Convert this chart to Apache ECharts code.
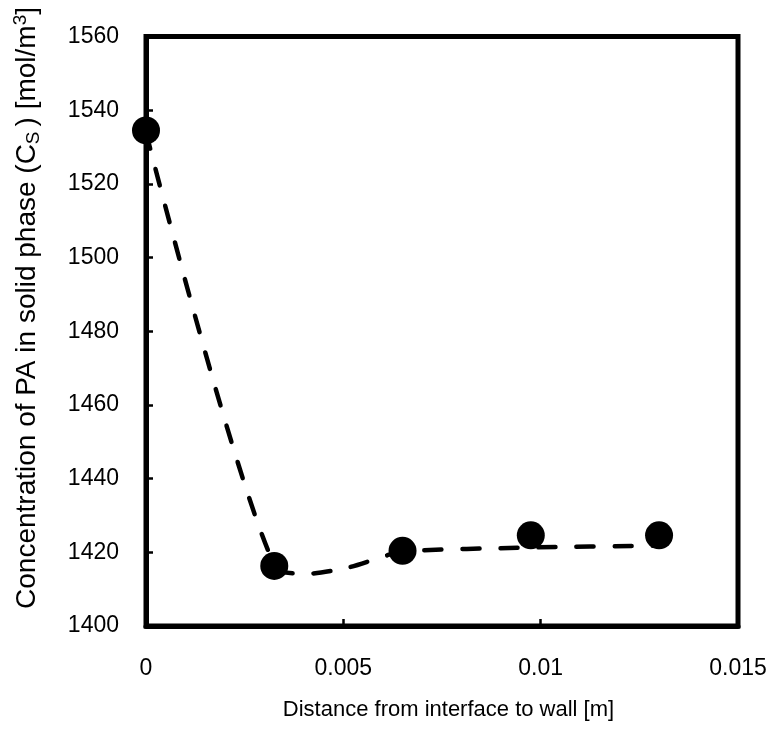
<!DOCTYPE html>
<html>
<head>
<meta charset="utf-8">
<script src="https://cdn.jsdelivr.net/npm/echarts@6/dist/echarts.min.js"></script>
<style>
  html, body { margin: 0; padding: 0; background: #fff; }
  #chart { width: 773px; height: 744px; }
</style>
</head>
<body>
<div id="chart"></div>
<script>
// Measured concentration of PA in the solid phase
const distanceMeasured = [0, 0.00325, 0.0065, 0.00975, 0.013];
const concMeasured = [1534.5, 1416.3, 1420.4, 1424.6, 1424.6];

// Model profile (dashed curve)
const distanceModel = [0, 0.0033, 0.0041, 0.0051, 0.006, 0.0065, 0.00975, 0.013];
const concModel = [1534.0, 1415.6, 1414.2, 1415.8, 1418.8, 1420.3, 1421.3, 1421.8];

// Axis ranges and ticks
const xTicks = { min: 0, max: 0.015, interval: 0.005 };
const yTicks = { min: 1400, max: 1560, interval: 20 };

const FONT = '"Liberation Sans", Arial, sans-serif';

const chart = echarts.init(document.getElementById('chart'), null, { renderer: 'canvas' });

chart.setOption({
  backgroundColor: '#ffffff',
  animation: false,
  grid: {
    left: 146, right: 35, top: 36.5, bottom: 118,
    show: true, borderColor: '#000', borderWidth: 5, backgroundColor: 'transparent'
  },
  xAxis: {
    type: 'value',
    min: xTicks.min, max: xTicks.max, interval: xTicks.interval,
    name: 'Distance from interface to wall [m]',
    nameLocation: 'middle',
    nameGap: 73,
    nameTextStyle: { fontFamily: FONT, fontSize: 22, color: '#000', padding: [0, 0, 0, 13] },
    axisLine: { show: true, lineStyle: { color: '#000', width: 5 } },
    axisTick: { show: true, inside: true, length: 7, lineStyle: { color: '#000', width: 2.5 } },
    axisLabel: { fontFamily: FONT, fontSize: 23, color: '#000', margin: 31, formatter: v => String(v) },
    splitLine: { show: false }
  },
  yAxis: {
    type: 'value',
    min: yTicks.min, max: yTicks.max, interval: yTicks.interval,
    axisLine: { show: true, lineStyle: { color: '#000', width: 5 } },
    axisTick: { show: true, inside: true, length: 7, lineStyle: { color: '#000', width: 2.5 } },
    axisLabel: { fontFamily: FONT, fontSize: 23, color: '#000', margin: 27, formatter: v => String(v) },
    splitLine: { show: false }
  },
  graphic: [{
    type: 'text',
    x: 27, y: 308,
    rotation: Math.PI / 2,
    style: {
      text: 'Concentration of PA in solid phase (C{sub|S}) [mol/m{sup|3}]',
      fontFamily: FONT, fontSize: 28, fill: '#000',
      align: 'center', verticalAlign: 'middle',
      rich: {
        sub: { fontFamily: FONT, fontSize: 19, fill: '#000', verticalAlign: 'bottom', padding: [13, 5, 0, 0] },
        sup: { fontFamily: FONT, fontSize: 19, fill: '#000', verticalAlign: 'top', padding: [0, 0, 13, 0] }
      }
    }
  }],
  series: [
    {
      name: 'Model',
      type: 'line',
      data: distanceModel.map((x, i) => [x, concModel[i]]),
      showSymbol: false,
      smooth: 0.25,
      lineStyle: { color: '#000', width: 4.5, type: [17, 21], cap: 'round' },
      z: 3
    },
    {
      name: 'Measured',
      type: 'scatter',
      data: distanceMeasured.map((x, i) => [x, concMeasured[i]]),
      symbol: 'circle',
      symbolSize: 28,
      itemStyle: { color: '#000', opacity: 1 },
      z: 4
    }
  ]
});
</script>
</body>
</html>
